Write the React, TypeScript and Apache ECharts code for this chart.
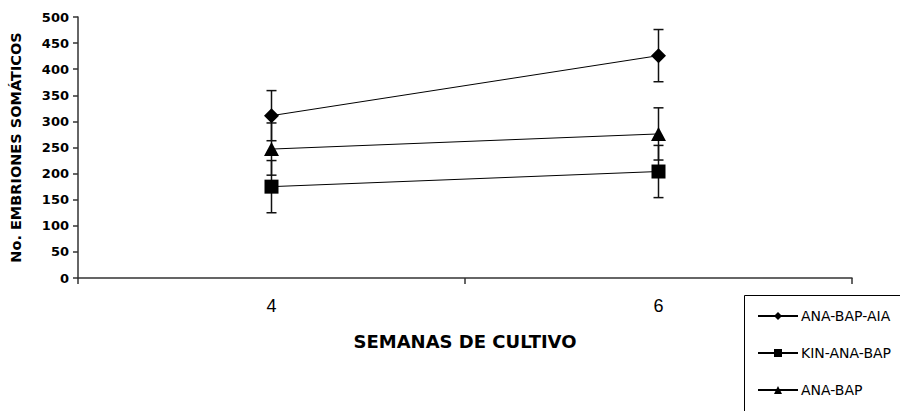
import React, { useEffect, useRef } from "react";
import * as echarts from "echarts";

const categories = ["4", "6"];
const seriesNames = ["ANA-BAP-AIA", "KIN-ANA-BAP", "ANA-BAP"];
const valuesAIA = [311, 426];
const valuesKIN = [175, 204];
const valuesANA = [247, 276];
const errorsAIA = [48, 50];
const errorsKIN = [50, 50];
const errorsANA = [50, 50];
const yTicks = { min: 0, max: 500, interval: 50 };

export default function App() {
  const ref = useRef<HTMLDivElement>(null);
  useEffect(() => {
    if (!ref.current) return;
    const chart = echarts.init(ref.current, null, { renderer: "svg" });
    const allValues = [valuesAIA, valuesKIN, valuesANA];
    const allErrors = [errorsAIA, errorsKIN, errorsANA];
    const errData: number[][] = [];
    allValues.forEach((vals, s) => {
      vals.forEach((v, i) => {
        errData.push([i, v - allErrors[s][i], v + allErrors[s][i]]);
      });
    });
    const symbols = ["diamond", "rect", "triangle"];
    const sizes: any[] = [[15, 15], [14, 14], [15, 14]];
    const lineSeries = allValues.map((vals, s) => ({
      name: seriesNames[s],
      type: "line",
      data: vals,
      symbol: symbols[s],
      symbolSize: sizes[s],
      z: 3,
      lineStyle: { color: "#000", width: 1 },
      itemStyle: { color: "#000" },
    }));
    chart.setOption({
      animation: false,
      backgroundColor: "#fff",
      grid: { left: 75, right: 48, top: 17, bottom: 133, containLabel: false },
      xAxis: {
        type: "category",
        data: categories,
        boundaryGap: true,
        name: "SEMANAS DE CULTIVO",
        nameLocation: "middle",
        nameGap: 54,
        nameTextStyle: {
          fontFamily: "DejaVu Sans",
          fontWeight: "bold",
          fontSize: 18,
          color: "#000",
        },
        axisLine: { lineStyle: { color: "#333", width: 1.5 } },
        axisTick: { show: true, length: 6, lineStyle: { color: "#333", width: 1.5 } },
        axisLabel: {
          fontFamily: "Liberation Sans",
          fontSize: 18,
          color: "#000",
          margin: 19,
        },
      },
      yAxis: {
        type: "value",
        min: yTicks.min,
        max: yTicks.max,
        interval: yTicks.interval,
        name: "No. EMBRIONES SOMÁTICOS",
        nameLocation: "middle",
        nameRotate: 90,
        nameGap: 55,
        nameTextStyle: {
          fontFamily: "DejaVu Sans",
          fontWeight: "bold",
          fontSize: 14.5,
          color: "#000",
        },
        splitLine: { show: false },
        axisLine: { show: true, lineStyle: { color: "#333", width: 1.5 } },
        axisTick: { show: true, length: 5, lineStyle: { color: "#333", width: 1.5 } },
        axisLabel: {
          fontFamily: "DejaVu Sans",
          fontWeight: "bold",
          fontSize: 13,
          color: "#000",
          margin: 9,
        },
      },
      legend: {
        orient: "vertical",
        left: 757,
        top: 309,
        padding: 0,
        itemWidth: 40,
        itemHeight: 10,
        itemGap: 23,
        data: seriesNames,
        textStyle: {
          fontFamily: "DejaVu Sans",
          fontSize: 14,
          lineHeight: 14,
          color: "#000",
          padding: [0, 0, 0, -2],
        },
      },
      graphic: [
        {
          type: "rect",
          shape: { x: 744.5, y: 295.5, width: 200, height: 150 },
          style: { fill: "none", stroke: "#000", lineWidth: 1 },
          z: 0,
        },
      ],
      series: [
        {
          type: "custom",
          z: 2,
          data: errData,
          encode: { x: 0, y: [1, 2] },
          renderItem: (params: any, api: any) => {
            const c = api.value(0);
            const lo = api.coord([c, api.value(1)]);
            const hi = api.coord([c, api.value(2)]);
            const hw = 5;
            const st = { stroke: "#111", lineWidth: 1.5 };
            return {
              type: "group",
              children: [
                { type: "line", shape: { x1: lo[0], y1: lo[1], x2: hi[0], y2: hi[1] }, style: st },
                { type: "line", shape: { x1: lo[0] - hw, y1: lo[1], x2: lo[0] + hw, y2: lo[1] }, style: st },
                { type: "line", shape: { x1: hi[0] - hw, y1: hi[1], x2: hi[0] + hw, y2: hi[1] }, style: st },
              ],
            };
          },
        },
        ...lineSeries,
      ],
    });
    return () => chart.dispose();
  }, []);
  return <div ref={ref} style={{ width: 900, height: 411, position: "absolute", left: 0, top: 0 }} />;
}
